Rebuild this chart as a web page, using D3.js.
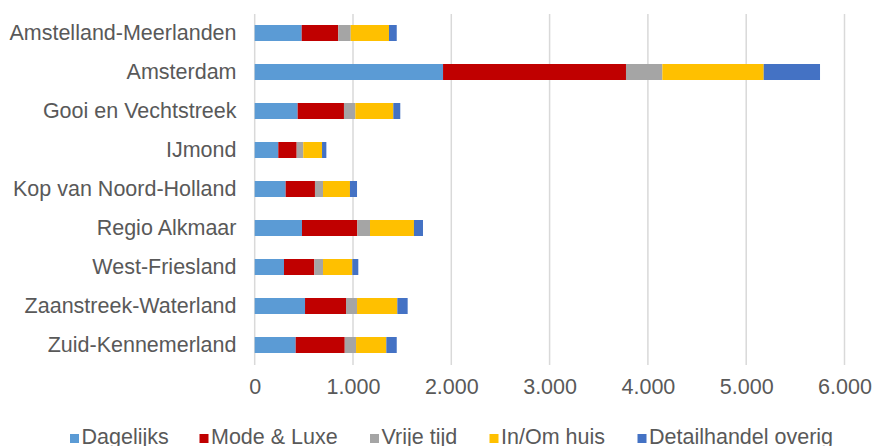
<!DOCTYPE html>
<html>
<head>
<meta charset="utf-8">
<script src="https://cdn.jsdelivr.net/npm/d3@7"></script>
<style>
  html, body { margin: 0; padding: 0; background: #fff; }
  svg { display: block; font-family: "Liberation Sans", Arial, sans-serif; }
</style>
</head>
<body>
<svg id="chart" width="874" height="446"></svg>
<script>
// Regions (top to bottom) and retail floor space per branch group
const regions = [
  "Amstelland-Meerlanden", "Amsterdam", "Gooi en Vechtstreek", "IJmond",
  "Kop van Noord-Holland", "Regio Alkmaar", "West-Friesland",
  "Zaanstreek-Waterland", "Zuid-Kennemerland"
];
const seriesNames = ["Dagelijks", "Mode & Luxe", "Vrije tijd", "In/Om huis", "Detailhandel overig"];
const dagelijks  = [478, 1916, 437, 240, 315, 481, 298, 512, 417];
const modeLuxe   = [372, 1861, 471, 187, 298, 563, 309, 417, 499];
const vrijeTijd  = [127,  370, 116,  67,  82, 129,  88, 112, 115];
const inOmHuis   = [389, 1031, 386, 191, 274, 447, 298, 410, 308];
const overig     = [ 79,  573,  71,  44,  72,  92,  61, 105, 106];
const tickValues = [0, 1000, 2000, 3000, 4000, 5000, 6000];
const tickLabels = ["0", "1.000", "2.000", "3.000", "4.000", "5.000", "6.000"];
const colors = ["#5B9BD5", "#C00000", "#A5A5A5", "#FFC000", "#4472C4"];

const seriesValues = [dagelijks, modeLuxe, vrijeTijd, inOmHuis, overig];
const rows = regions.map((r, i) => {
  const o = { region: r };
  seriesNames.forEach((s, k) => { o[s] = seriesValues[k][i]; });
  return o;
});

const svg = d3.select("#chart");
const textColor = "#595959";
const fontSize = 21.5;

const x = d3.scaleLinear().domain([0, 6000]).range([254.7, 844.5]);
const y = d3.scaleBand().domain(regions).range([13.5, 364.5])
  .paddingInner(0.59).paddingOuter(0.295);

// vertical gridlines
svg.append("g").selectAll("line").data(tickValues).join("line")
  .attr("x1", d => x(d)).attr("x2", d => x(d))
  .attr("y1", 14).attr("y2", 365)
  .attr("stroke", "#d9d9d9").attr("stroke-width", 1.5);

// stacked bars
const stack = d3.stack().keys(seriesNames)(rows);
svg.append("g").selectAll("g").data(stack).join("g")
  .attr("fill", (d, i) => colors[i])
  .selectAll("rect").data(d => d).join("rect")
  .attr("x", d => x(d[0]))
  .attr("width", d => x(d[1]) - x(d[0]))
  .attr("y", d => y(d.data.region))
  .attr("height", y.bandwidth());

// category axis labels
const yAxis = d3.axisLeft(y).tickSize(0).tickPadding(0);
const gy = svg.append("g").attr("transform", "translate(236.5,0)").call(yAxis);
gy.select(".domain").remove();
gy.selectAll("text")
  .attr("fill", textColor).attr("font-size", fontSize)
  .attr("font-family", "Liberation Sans, Arial, sans-serif")
  .attr("dy", "0.34em");

// value axis labels
const xAxis = d3.axisBottom(x).tickValues(tickValues)
  .tickFormat((d, i) => tickLabels[i]).tickSize(0).tickPadding(0);
const gx = svg.append("g").attr("transform", "translate(0,379)").call(xAxis);
gx.select(".domain").remove();
gx.selectAll("text")
  .attr("fill", textColor).attr("font-size", fontSize)
  .attr("font-family", "Liberation Sans, Arial, sans-serif")
  .attr("dy", "0.71em");

// legend
const legendX = [70, 199.5, 370, 489.5, 637.5];
const lg = svg.append("g").selectAll("g").data(seriesNames).join("g")
  .attr("transform", (d, i) => `translate(${legendX[i]},0)`);
lg.append("rect").attr("x", 0).attr("y", 434).attr("width", 9).attr("height", 9)
  .attr("fill", (d, i) => colors[i]);
lg.append("text").attr("x", 11.5).attr("y", 444)
  .attr("fill", textColor).attr("font-size", fontSize)
  .text(d => d);
</script>
</body>
</html>
